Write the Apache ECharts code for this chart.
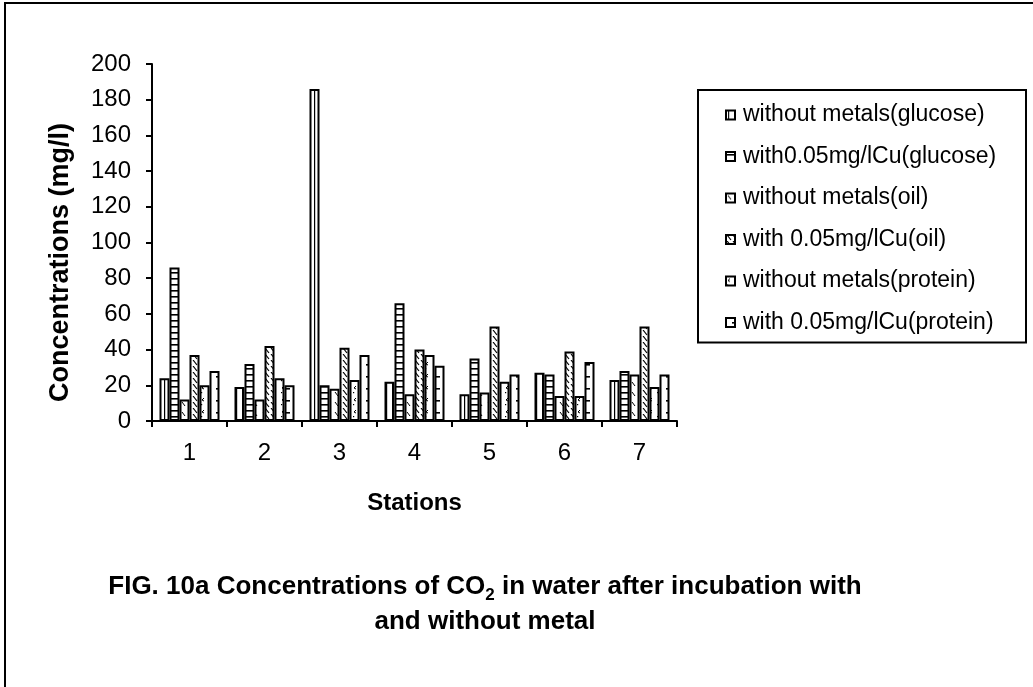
<!DOCTYPE html>
<html>
<head>
<meta charset="utf-8">
<script src="https://cdn.jsdelivr.net/npm/echarts@6/dist/echarts.min.js"></script>
<style>
  html, body { margin: 0; padding: 0; background: #fff; }
  #chart { width: 1033px; height: 687px; }
</style>
</head>
<body>
<div id="chart"></div>
<script>
const stations = ['1', '2', '3', '4', '5', '6', '7']
const seriesNames = [
  'without metals(glucose)',
  'with0.05mg/lCu(glucose)',
  'without metals(oil)',
  'with 0.05mg/lCu(oil)',
  'without metals(protein)',
  'with 0.05mg/lCu(protein)',
]
const withoutGlucose = [24, 19, 186, 22, 15, 27, 23]
const withCuGlucose = [86, 32, 20, 66, 35, 26, 28]
const withoutOil = [12, 12, 18, 15, 16, 14, 26]
const withCuOil = [37, 42, 41, 40, 53, 39, 53]
const withoutProtein = [20, 24, 23, 37, 22, 14, 19]
const withCuProtein = [28, 20, 37, 31, 26, 33, 26]
const yTicks = { min: 0, max: 200, interval: 20 }

const FONT = '"Liberation Sans", Arial, sans-serif'

function makePattern(w, h, draw) {
  const c = document.createElement('canvas')
  c.width = w
  c.height = h
  const ctx = c.getContext('2d')
  ctx.fillStyle = '#fff'
  ctx.fillRect(0, 0, w, h)
  ctx.strokeStyle = '#000'
  ctx.fillStyle = '#000'
  ctx.lineWidth = 1
  draw(ctx)
  return { image: c, repeat: 'repeat' }
}

const patterns = [
  // vertical lines
  makePattern(6, 6, (ctx) => {
    ctx.fillRect(2, 0, 1.2, 6)
  }),
  // horizontal lines
  makePattern(6, 6, (ctx) => {
    ctx.fillRect(0, 2, 6, 1.6)
  }),
  // sparse diagonal dashes
  makePattern(9, 10, (ctx) => {
    ctx.beginPath()
    ctx.moveTo(2, 2)
    ctx.lineTo(5, 6)
    ctx.stroke()
  }),
  // dense diagonal dashes
  makePattern(6, 6, (ctx) => {
    ctx.lineWidth = 1.2
    ctx.beginPath()
    ctx.moveTo(1, 0)
    ctx.lineTo(5, 5)
    ctx.stroke()
  }),
  // small dots / chevrons
  makePattern(8, 12, (ctx) => {
    ctx.beginPath()
    ctx.moveTo(4, 2)
    ctx.lineTo(2, 4)
    ctx.lineTo(4, 5)
    ctx.stroke()
    ctx.fillRect(1, 8, 1.2, 1.2)
  }),
  // short horizontal dashes
  makePattern(10, 12, (ctx) => {
    ctx.fillRect(6, 4, 4, 1.6)
  }),
]

const values = [withoutGlucose, withCuGlucose, withoutOil, withCuOil, withoutProtein, withCuProtein]

const chart = echarts.init(document.getElementById('chart'))
chart.setOption({
  animation: false,
  backgroundColor: '#fff',
  graphic: [
    {
      type: 'rect',
      shape: { x: 5, y: 3, width: 1100, height: 760 },
      style: { fill: 'none', stroke: '#000', lineWidth: 2 },
      silent: true,
      z: -10,
    },
    {
      type: 'text',
      x: 485,
      y: 569,
      style: {
        align: 'center',
        verticalAlign: 'top',
        text: '{b|FIG. 10a Concentrations of CO}{s|2}{b| in water after incubation with}\n{b|and without metal}',
        rich: {
          b: { fontFamily: FONT, fontWeight: 'bold', fontSize: 26, fill: '#000', lineHeight: 35 },
          s: { fontFamily: FONT, fontWeight: 'bold', fontSize: 17, fill: '#000', lineHeight: 35, padding: [14, 0, 0, 0], verticalAlign: 'bottom' },
        },
      },
    },
  ],
  legend: {
    orient: 'vertical',
    left: 698,
    top: 90,
    padding: [13, 20, 8, 27],
    itemGap: 17.5,
    itemWidth: 9,
    itemHeight: 9,
    icon: 'rect',
    borderColor: '#000',
    borderWidth: 2,
    textStyle: { fontFamily: FONT, fontSize: 23, lineHeight: 24, color: '#000', width: 263, padding: [0, 0, 0, 3] },
    data: seriesNames,
  },
  grid: {
    left: 152,
    right: 356,
    top: 64,
    bottom: 266,
    containLabel: false,
  },
  xAxis: {
    type: 'category',
    data: stations,
    name: 'Stations',
    nameLocation: 'middle',
    nameGap: 70,
    nameTextStyle: { fontFamily: FONT, fontWeight: 'bold', fontSize: 24, color: '#000' },
    axisLine: { lineStyle: { color: '#000', width: 2 } },
    axisTick: { show: true, length: 6, lineStyle: { color: '#000', width: 2 } },
    axisLabel: { fontFamily: FONT, fontSize: 24, color: '#000', margin: 20 },
  },
  yAxis: {
    type: 'value',
    min: yTicks.min,
    max: yTicks.max,
    interval: yTicks.interval,
    name: 'Concentrations (mg/l)',
    nameLocation: 'middle',
    nameGap: 78,
    nameTextStyle: { fontFamily: FONT, fontWeight: 'bold', fontSize: 27, color: '#000', padding: [0, 40, 0, 0] },
    axisLine: { show: true, lineStyle: { color: '#000', width: 2 } },
    axisTick: { show: true, length: 6, lineStyle: { color: '#000', width: 2 } },
    axisLabel: { fontFamily: FONT, fontSize: 24, color: '#000', margin: 21 },
    splitLine: { show: false },
  },
  series: seriesNames.map((name, i) => ({
    name,
    type: 'bar',
    data: values[i],
    barGap: '0%',
    barCategoryGap: '20%',
    itemStyle: {
      color: patterns[i],
      borderColor: '#000',
      borderWidth: 2,
    },
  })),
})
</script>
</body>
</html>
